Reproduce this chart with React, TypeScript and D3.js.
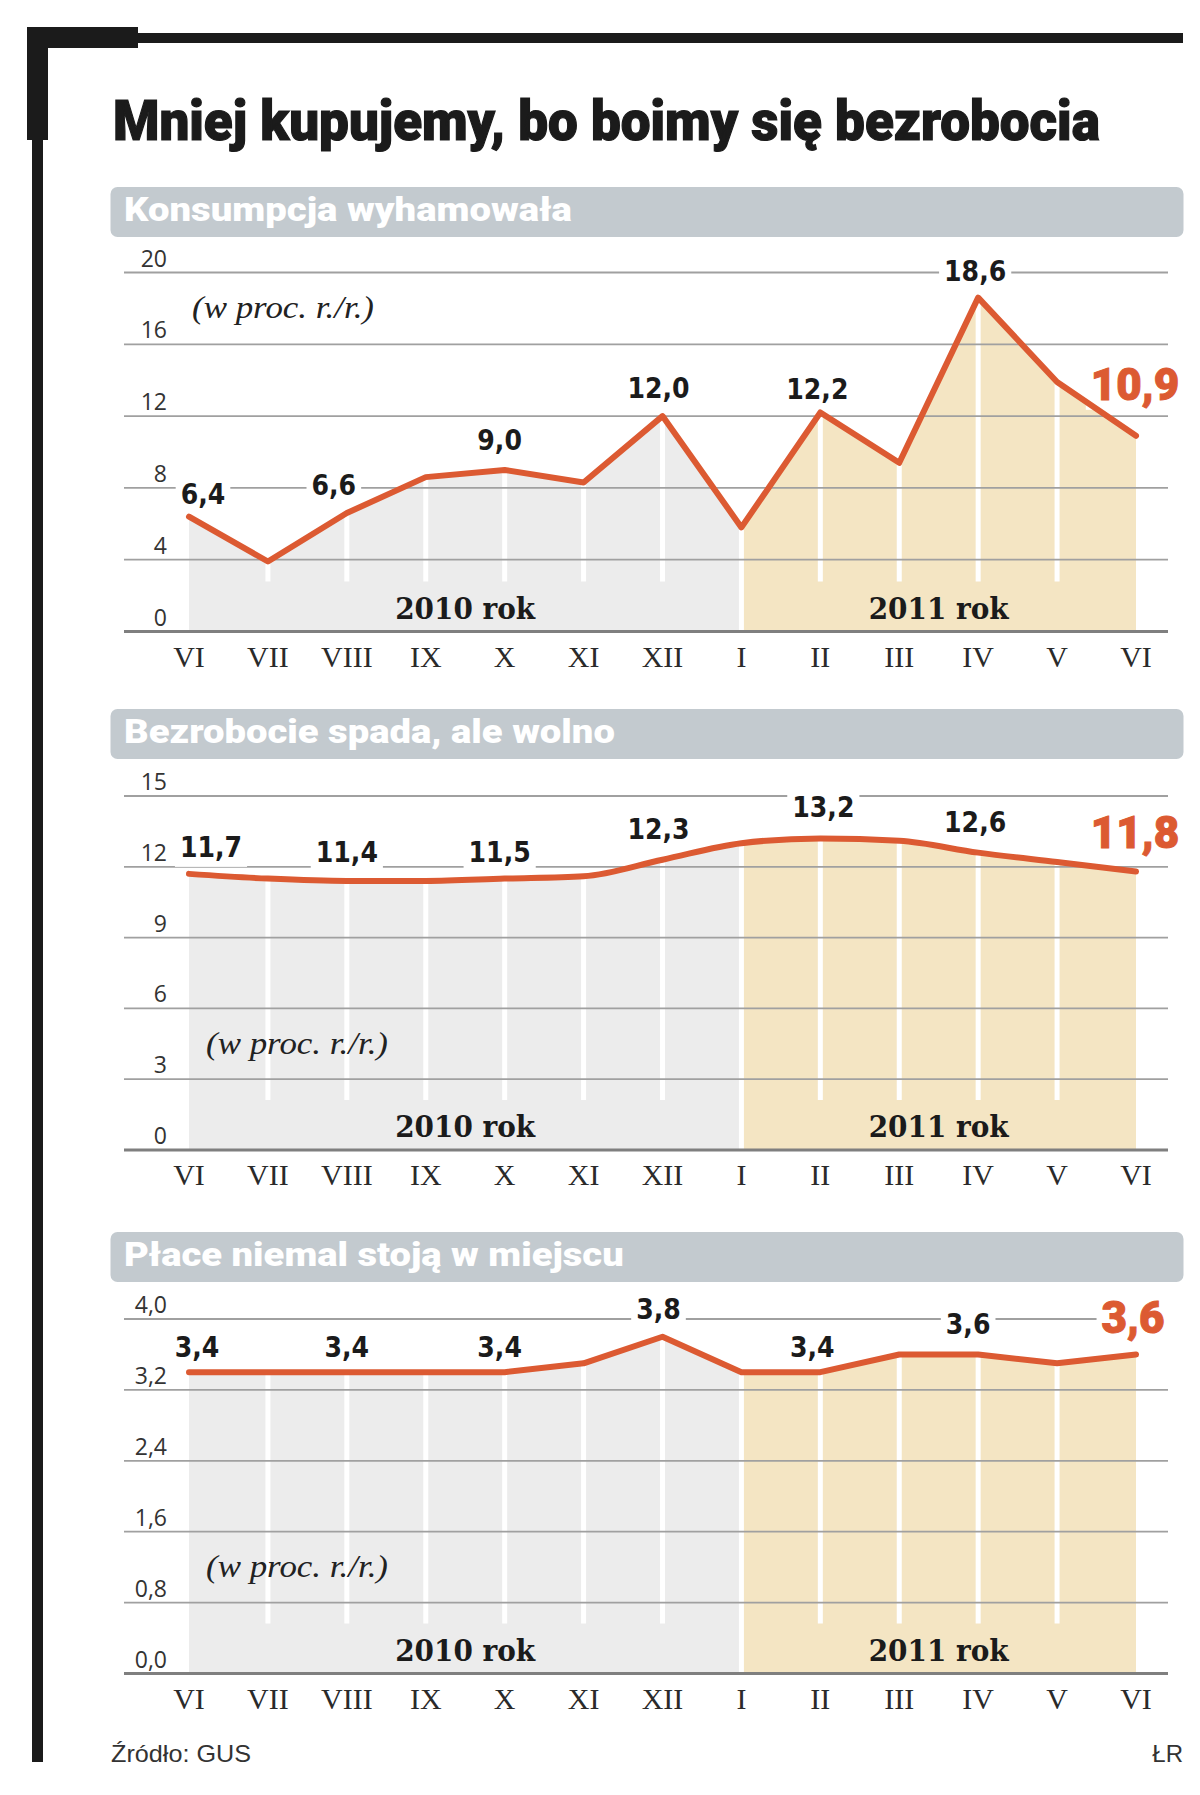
import React, { useEffect, useRef } from "react";
import * as d3 from "d3";

// ---------------- data ----------------
const months = ["VI", "VII", "VIII", "IX", "X", "XI", "XII", "I", "II", "III", "IV", "V", "VI"];
const consumptionValues = [6.4, 3.9, 6.6, 8.6, 9.0, 8.3, 12.0, 5.8, 12.2, 9.4, 18.6, 13.9, 10.9];
const unemploymentValues = [11.7, 11.5, 11.4, 11.4, 11.5, 11.6, 12.3, 13.0, 13.2, 13.1, 12.6, 12.2, 11.8];
const wageValues = [3.4, 3.4, 3.4, 3.4, 3.4, 3.5, 3.8, 3.4, 3.4, 3.6, 3.6, 3.5, 3.6];
const consumptionTicks = [0, 4, 8, 12, 16, 20];
const unemploymentTicks = [0, 3, 6, 9, 12, 15];
const wageTicks = [0, 0.8, 1.6, 2.4, 3.2, 4.0];
const labelledIndices = [0, 2, 4, 6, 8, 10, 12];
const yearLabels = ["2010 rok", "2011 rok"];
const yearBreakIndex = 7;

const titleText = "Mniej kupujemy, bo boimy się bezrobocia";
const panelTitles = ["Konsumpcja wyhamowała", "Bezrobocie spada, ale wolno", "Płace niemal stoją w miejscu"];
const unitText = "(w proc. r./r.)";
const sourceText = "Źródło: GUS";
const authorText = "ŁR";

// ---------------- layout ----------------
const X0 = 189;
const X1 = 1136;
const GRID_X0 = 124;
const GRID_X1 = 1168;
const INK = "#1b1b1b";
const ORANGE = "#dc5a32";

const panelLayout = [
  {
    headerTop: 187, yTop: 272.5, yBottom: 631.5, unitX: 192, unitY: 318, titleW: 448, smooth: false, decimals: 0,
    offsets: [[14, -13], [-13, -18], [-5, -20], [-4, -18], [-3, -14], [-3, -17], [-1, -36]],
  },
  {
    headerTop: 709, yTop: 796, yBottom: 1150, unitX: 206, unitY: 1054, titleW: 491, smooth: true, decimals: 0,
    offsets: [[22, -17], [0, -19], [-5, -17], [-4, -21], [3, -21], [-3, -21], [-1, -24]],
  },
  {
    headerTop: 1232, yTop: 1319, yBottom: 1673.5, unitX: 206, unitY: 1577, titleW: 500, smooth: false, decimals: 1,
    offsets: [[8, -15], [0, -15], [-5, -15], [-4, -18], [-8, -15], [-10, -20], [-3, -21]],
  },
];

const series = [consumptionValues, unemploymentValues, wageValues];
const tickSets = [consumptionTicks, unemploymentTicks, wageTicks];

const comma = (v: number, dec: number) => v.toFixed(dec).replace(".", ",");

// draw a text and squeeze/stretch it horizontally to a target width
function fitText(
  parent: d3.Selection<any, unknown, null, undefined>,
  str: string, x: number, y: number, width: number,
  attrs: Record<string, string | number>
) {
  const g = parent.append("g");
  const t = g.append("text").attr("x", 0).attr("y", 0).text(str);
  Object.entries(attrs).forEach(([k, v]) => t.attr(k, v));
  const w = (t.node() as SVGTextElement).getComputedTextLength() || width;
  g.attr("transform", `translate(${x},${y}) scale(${width / w},1)`);
  return t;
}

export default function App() {
  const ref = useRef<SVGSVGElement>(null);

  useEffect(() => {
    document.body.style.margin = "0";
    const svg = d3.select(ref.current!);
    svg.selectAll("*").remove();
    const defs = svg.append("defs");

    // frame
    svg.append("rect").attr("x", 27).attr("y", 27).attr("width", 111).attr("height", 21).attr("fill", INK);
    svg.append("rect").attr("x", 27).attr("y", 33).attr("width", 1156).attr("height", 10).attr("fill", INK);
    svg.append("rect").attr("x", 27).attr("y", 27).attr("width", 21).attr("height", 113).attr("fill", INK);
    svg.append("rect").attr("x", 32).attr("y", 27).attr("width", 11).attr("height", 1735).attr("fill", INK);

    // title
    fitText(svg as any, titleText, 113, 140, 987, {
      "font-family": "Roboto, 'DejaVu Sans', sans-serif",
      "font-weight": 900,
      "font-size": 55,
      fill: INK,
      stroke: INK,
      "stroke-width": 1.2,
    });

    const x = d3.scaleLinear().domain([0, months.length - 1]).range([X0, X1]);

    panelLayout.forEach((p, k) => {
      const vals = series[k];
      const tk = tickSets[k];
      const y = d3.scaleLinear().domain([0, d3.max(tk) as number]).range([p.yBottom, p.yTop]);
      const curve = p.smooth ? d3.curveMonotoneX : d3.curveLinear;
      const g = svg.append("g");

      // header
      g.append("rect").attr("x", 110.5).attr("y", p.headerTop).attr("width", 1073).attr("height", 50)
        .attr("rx", 7).attr("fill", "#c3cacf");
      fitText(g as any, panelTitles[k], 124, p.headerTop + 34, p.titleW, {
        "font-family": "Roboto, 'DejaVu Sans', sans-serif",
        "font-weight": 900,
        "font-size": 33,
        fill: "#ffffff",
      });

      // clips for the two years
      const xb = x(yearBreakIndex);
      defs.append("clipPath").attr("id", `clipA${k}`).append("rect")
        .attr("x", 0).attr("y", 0).attr("width", xb).attr("height", 1795);
      defs.append("clipPath").attr("id", `clipB${k}`).append("rect")
        .attr("x", xb).attr("y", 0).attr("width", 1200 - xb).attr("height", 1795);

      const area = d3.area<number>().x((_, i) => x(i)).y0(y(0)).y1((d) => y(d)).curve(curve);
      g.append("path").attr("d", area(vals)!).attr("fill", "#ececec").attr("clip-path", `url(#clipA${k})`);
      g.append("path").attr("d", area(vals)!).attr("fill", "#f4e5c3").attr("clip-path", `url(#clipB${k})`);

      // white month separators
      vals.forEach((v, i) => {
        if (i === 0 || i === vals.length - 1) return;
        const full = i === yearBreakIndex;
        g.append("line").attr("x1", x(i)).attr("x2", x(i))
          .attr("y1", y(v)).attr("y2", full ? y(0) : y(0) - 50)
          .attr("stroke", "#ffffff").attr("stroke-width", 5);
      });

      // gridlines
      tk.forEach((t) => {
        g.append("line").attr("x1", GRID_X0).attr("x2", GRID_X1).attr("y1", y(t)).attr("y2", y(t))
          .attr("stroke", t === 0 ? "#7f7f7f" : "#a0a0a0").attr("stroke-width", t === 0 ? 3 : 1.8);
        g.append("text").attr("x", 167).attr("y", y(t) - 6).attr("text-anchor", "end")
          .attr("font-family", "'Open Sans', 'Noto Sans', sans-serif").attr("font-size", 23)
          .attr("fill", "#333").text(comma(t, p.decimals));
      });

      const bgLayer = g.append("g");

      // data line
      const line = d3.line<number>().x((_, i) => x(i)).y((d) => y(d)).curve(curve);
      g.append("path").attr("d", line(vals)!).attr("fill", "none").attr("stroke", ORANGE)
        .attr("stroke-width", 6).attr("stroke-linejoin", "round").attr("stroke-linecap", "round");

      const textLayer = g.append("g");

      // value labels
      labelledIndices.forEach((idx, j) => {
        const [dx, dy] = p.offsets[j];
        const last = idx === vals.length - 1;
        const bx = x(idx) + dx;
        const by = y(vals[idx]) + dy;
        const t = textLayer.append("text").attr("x", bx).attr("y", by).attr("text-anchor", "middle")
          .attr("fill", last ? ORANGE : INK)
          .attr("font-family", last ? "Roboto, 'DejaVu Sans', sans-serif" : "'DejaVu Sans Condensed', 'DejaVu Sans', sans-serif")
          .attr("font-weight", last ? 900 : 700)
          .attr("font-size", last ? 44 : 28)
          .attr("stroke", last ? ORANGE : "none")
          .attr("stroke-width", last ? 1 : 0)
          .text(comma(vals[idx], 1));
        const bb = (t.node() as SVGTextElement).getBBox();
        const top = last ? bb.y + 6 : bb.y;
        bgLayer.append("rect").attr("x", bb.x - 5).attr("width", bb.width + 10)
          .attr("y", top).attr("height", by + 10 - top).attr("fill", "#ffffff");
      });

      // year labels
      const yearCenters = [(x(0) + xb) / 2, (xb + x(vals.length - 1)) / 2];
      yearLabels.forEach((lab, i) => {
        g.append("text").attr("x", yearCenters[i]).attr("y", y(0) - 13).attr("text-anchor", "middle")
          .attr("font-family", "'DejaVu Serif', serif").attr("font-weight", 700).attr("font-size", 29)
          .attr("textLength", 140).attr("lengthAdjust", "spacingAndGlyphs")
          .attr("fill", INK).text(lab);
      });

      // unit
      g.append("text").attr("x", p.unitX).attr("y", p.unitY)
        .attr("font-family", "'Liberation Serif', serif").attr("font-style", "italic").attr("font-size", 32)
        .attr("textLength", 182).attr("lengthAdjust", "spacingAndGlyphs")
        .attr("fill", "#222").text(unitText);

      // month labels
      months.forEach((m, i) => {
        g.append("text").attr("x", x(i)).attr("y", y(0) + 35).attr("text-anchor", "middle")
          .attr("font-family", "'Liberation Serif', serif").attr("font-size", 30)
          .attr("fill", "#2a2a2a").text(m);
      });
    });

    // footer
    svg.append("text").attr("x", 111).attr("y", 1762)
      .attr("font-family", "'Liberation Sans', Arial, sans-serif").attr("font-size", 24)
      .attr("textLength", 140).attr("lengthAdjust", "spacingAndGlyphs")
      .attr("fill", "#333").text(sourceText);
    svg.append("text").attr("x", 1183).attr("y", 1762).attr("text-anchor", "end")
      .attr("font-family", "'Liberation Sans', Arial, sans-serif").attr("font-size", 24)
      .attr("fill", "#333").text(authorText);
  }, []);

  return <svg ref={ref} width={1200} height={1795} style={{ display: "block", background: "#fff" }} />;
}
